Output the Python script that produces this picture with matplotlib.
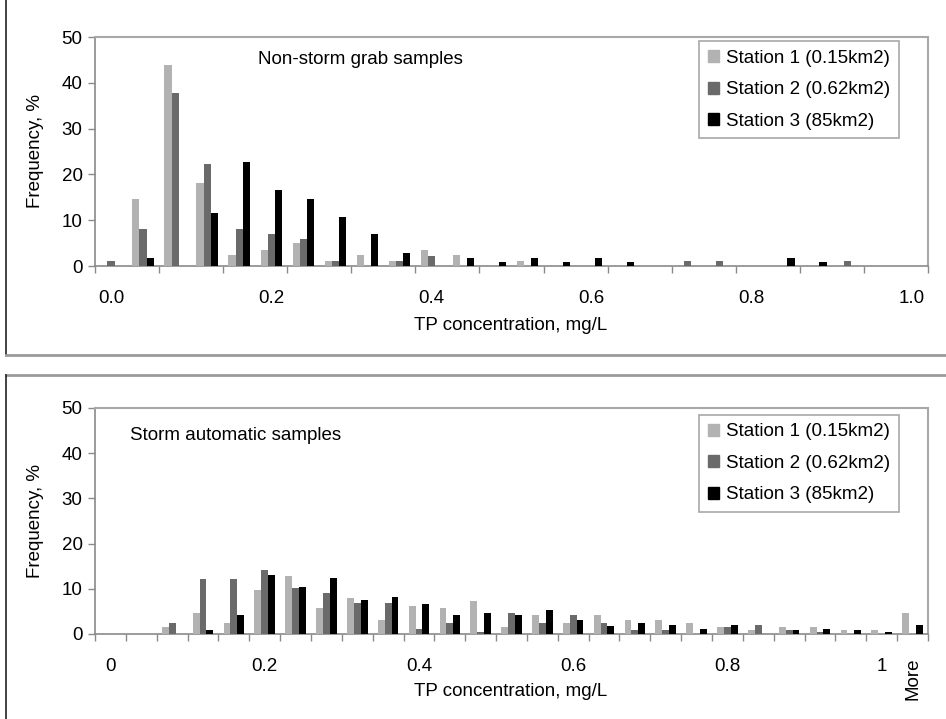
import matplotlib
matplotlib.use("Agg")
import matplotlib.pyplot as plt
from matplotlib.patches import Patch
from matplotlib.lines import Line2D
import numpy as np

plt.rcParams['font.family'] = ['Liberation Sans', 'DejaVu Sans']

# ---------------- data ----------------
top_bins = [0.00, 0.04, 0.08, 0.12, 0.16, 0.20, 0.24, 0.28, 0.32, 0.36, 0.40, 0.44, 0.48,
            0.52, 0.56, 0.60, 0.64, 0.68, 0.72, 0.76, 0.80, 0.84, 0.88, 0.92, 0.96, 1.00]
top_s1 = [0, 14.6, 43.9, 18.1, 2.4, 3.6, 5.0, 1.2, 2.4, 1.2, 3.6, 2.4, 0,
          1.2, 0, 0, 0, 0, 0, 0, 0, 0, 0, 0, 0, 0]
top_s2 = [1.2, 8.0, 37.7, 22.2, 8.0, 6.9, 5.8, 1.2, 0, 1.2, 2.1, 0, 0,
          0, 0, 0, 0, 0, 1.2, 1.2, 0, 0, 0, 1.2, 0, 0]
top_s3 = [0, 1.8, 0, 11.5, 22.6, 16.5, 14.7, 10.6, 6.9, 2.8, 0, 1.8, 0.9,
          1.8, 0.9, 1.8, 0.9, 0, 0, 0, 0, 1.8, 0.9, 0, 0, 0]
top_ticklabels = ["0.0", "0.2", "0.4", "0.6", "0.8", "1.0"]

bot_bins = ["0.00", "0.04", "0.08", "0.12", "0.16", "0.20", "0.24", "0.28", "0.32", "0.36",
            "0.40", "0.44", "0.48", "0.52", "0.56", "0.60", "0.64", "0.68", "0.72", "0.76",
            "0.80", "0.84", "0.88", "0.92", "0.96", "1.00", "More"]
bot_s1 = [0, 0, 1.6, 4.6, 2.5, 9.8, 12.8, 5.7, 7.9, 3.2, 6.3, 5.7, 7.2, 1.5, 4.1,
          2.5, 4.1, 3.1, 3.1, 2.5, 1.5, 0.9, 1.5, 1.5, 0.9, 0.9, 4.7]
bot_s2 = [0, 0, 2.5, 12.2, 12.2, 14.1, 10.1, 9.1, 6.9, 6.9, 1.0, 2.5, 0.5, 4.7, 2.5,
          4.1, 2.5, 0.9, 0.9, 0, 1.5, 2.1, 0.9, 0.5, 0, 0, 0]
bot_s3 = [0, 0, 0, 0.9, 4.1, 13.1, 10.4, 12.5, 7.6, 8.2, 6.6, 4.1, 4.7, 4.1, 5.4,
          3.1, 1.8, 2.5, 2.1, 1.2, 1.9, 0, 0.9, 1.2, 0.9, 0.4, 2.1]
bot_ticklabels = ["0", "0.2", "0.4", "0.6", "0.8", "1", "More"]

series_names = ["Station 1 (0.15km2)", "Station 2 (0.62km2)", "Station 3 (85km2)"]
colors = ["#b2b2b2", "#6a6a6a", "#000000"]

W, H = 946, 719
fig = plt.figure(figsize=(W / 100, H / 100), dpi=100)

FS = 13.5
AXC = "#8a8a8a"
BORDER = "#a8a8a8"


def make_axes(box):
    x0, y0, x1, y1 = box
    return fig.add_axes([x0 / W, 1 - y1 / H, (x1 - x0) / W, (y1 - y0) / H])


def draw_panel(ax, series, n, tick_step, label_idx, labels, title, title_xy,
               rot_last, leg_top):
    width = 1 / 4.5
    x = np.arange(n)
    for k, (vals, c, name) in enumerate(zip(series, colors, series_names)):
        ax.bar(x + (k - 1) * width, vals, width=width, color=c,
               linewidth=0, label=name, zorder=3)
    ax.set_xlim(-0.5, n - 0.5)
    ax.set_ylim(0, 50)
    ax.set_yticks([0, 10, 20, 30, 40, 50])
    ax.tick_params(axis='y', labelsize=FS, length=5, width=1, color=AXC, pad=4)
    # tick marks at category boundaries
    ax.set_xticks(np.arange(-0.5, n, tick_step), minor=True)
    ax.set_xticks(label_idx)
    ax.set_xticklabels(labels)
    ax.tick_params(axis='x', which='major', length=0, labelsize=FS, pad=17)
    ax.tick_params(axis='x', which='minor', length=5, width=1, color=AXC)
    if rot_last:
        lbl = ax.get_xticklabels()[-1]
        lbl.set_rotation(90)
        lbl.set_va('top')
    for s in ['left', 'bottom']:
        ax.spines[s].set_color(AXC)
        ax.spines[s].set_linewidth(1.2)
    for s in ['top', 'right']:
        ax.spines[s].set_color(BORDER)
        ax.spines[s].set_linewidth(1.5)
    ax.text(title_xy[0], title_xy[1], title, transform=ax.transAxes,
            fontsize=FS, va='center', ha='left')
    handles = [Patch(facecolor=c, edgecolor=c) for c in colors]
    leg = ax.legend(handles, series_names, loc='upper right',
                    bbox_to_anchor=(0.965, leg_top), fontsize=FS, frameon=True,
                    fancybox=False, framealpha=1, edgecolor=BORDER,
                    handlelength=0.6, handleheight=0.6, handletextpad=0.4,
                    labelspacing=0.78, borderpad=0.45, borderaxespad=0)
    leg.get_frame().set_linewidth(1.2)


# top panel
ax1 = make_axes((95, 37, 928, 266))
draw_panel(ax1, [top_s1, top_s2, top_s3], len(top_bins), 2,
           [0, 5, 10, 15, 20, 25], top_ticklabels,
           "Non-storm grab samples", (0.196, 0.90), False, 0.982)

# bottom panel
ax2 = make_axes((95, 408, 928, 634))
draw_panel(ax2, [bot_s1, bot_s2, bot_s3], len(bot_bins), 1,
           [0, 5, 10, 15, 20, 25, 26], bot_ticklabels,
           "Storm automatic samples", (0.042, 0.88), True, 0.97)

# axis titles
for yc in (151, 521):
    fig.text(36 / W, 1 - yc / H, "Frequency, %", rotation=90, fontsize=FS,
             ha='center', va='center')
fig.text(511 / W, 1 - 325 / H, "TP concentration, mg/L", fontsize=FS,
         ha='center', va='center')
fig.text(511 / W, 1 - 691 / H, "TP concentration, mg/L", fontsize=FS,
         ha='center', va='center')

# outer panel frames
def fline(xs, ys, **kw):
    fig.add_artist(Line2D([x / W for x in xs], [1 - y / H for y in ys],
                          transform=fig.transFigure, **kw))

fline([6, 6], [0, 355], color="#222222", linewidth=1.2)
fline([6, 946], [355, 355], color="#9a9a9a", linewidth=2)
fline([6, 946], [375, 375], color="#9a9a9a", linewidth=2)
fline([6, 6], [375, 719], color="#222222", linewidth=1.2)

fig.savefig("out.png", dpi=100)
